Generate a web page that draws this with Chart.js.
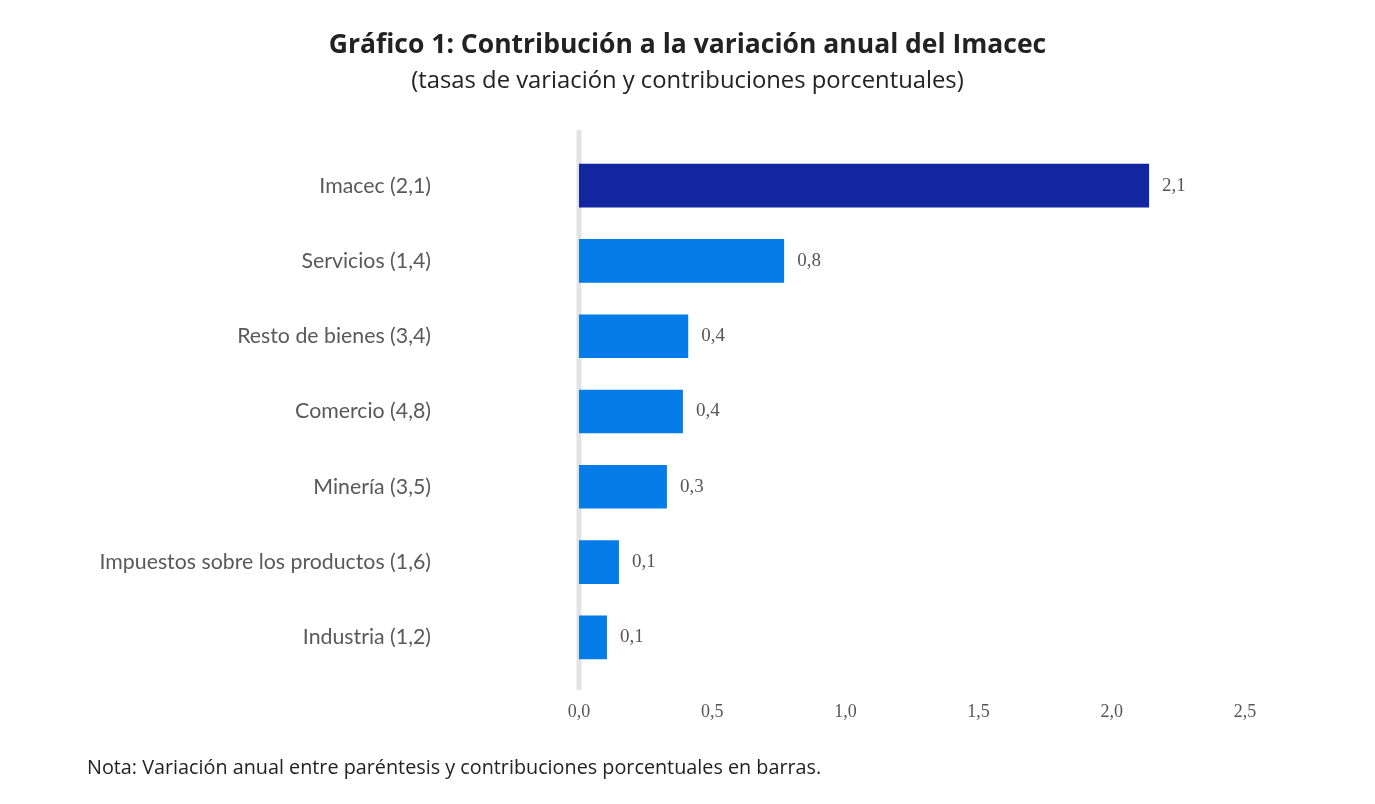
<!DOCTYPE html>
<html lang="es">
<head>
<meta charset="utf-8">
<title>Gráfico 1: Contribución a la variación anual del Imacec</title>
<script src="https://cdn.jsdelivr.net/npm/chart.js@4"></script>
<style>
  html, body { margin: 0; padding: 0; background: #fff; }
  #wrap { position: relative; width: 1375px; height: 804px; }
  #grafico { position: absolute; left: 0; top: 0; }
  .txt { position: absolute; left: 0; width: 1375px; text-align: center; font-family: "Open Sans", sans-serif; color: #222; white-space: nowrap; }
  #titulo { top: 25px; font-size: 26.5px; font-weight: bold; }
  #subtitulo { top: 63px; font-size: 23.8px; }
  #nota { top: 753px; left: 87px; width: auto; text-align: left; font-size: 19.8px; }
</style>
</head>
<body>
<div id="wrap">
  <canvas id="grafico" width="1375" height="804"></canvas>
  <div class="txt" id="titulo">Gráfico 1: Contribución a la variación anual del Imacec</div>
  <div class="txt" id="subtitulo">(tasas de variación y contribuciones porcentuales)</div>
  <div class="txt" id="nota">Nota: Variación anual entre paréntesis y contribuciones porcentuales en barras.</div>
</div>
<script>
const categorias = ['Imacec (2,1)', 'Servicios (1,4)', 'Resto de bienes (3,4)', 'Comercio (4,8)',
  'Minería (3,5)', 'Impuestos sobre los productos (1,6)', 'Industria (1,2)'];
const contribuciones = [2.14, 0.77, 0.41, 0.39, 0.33, 0.15, 0.105];
const etiquetas = ['2,1', '0,8', '0,4', '0,4', '0,3', '0,1', '0,1'];
const colores = ['#1226a0', '#057ce8', '#057ce8', '#057ce8', '#057ce8', '#057ce8', '#057ce8'];

const fuenteNum = 'Liberation Serif, serif';

// linea gris del cero y etiquetas de las barras
const extras = {
  id: 'extras',
  beforeDatasetsDraw(chart) {
    const { ctx, chartArea, scales } = chart;
    const x0 = scales.x.getPixelForValue(0);
    ctx.save();
    ctx.strokeStyle = '#e3e3e3';
    ctx.lineWidth = 5;
    ctx.beginPath();
    ctx.moveTo(x0, chartArea.top - 18);
    ctx.lineTo(x0, chartArea.bottom + 15);
    ctx.stroke();
    ctx.restore();
  },
  afterDatasetsDraw(chart) {
    const { ctx } = chart;
    const meta = chart.getDatasetMeta(0);
    ctx.save();
    ctx.font = '19px ' + fuenteNum;
    ctx.fillStyle = '#555';
    ctx.textBaseline = 'middle';
    meta.data.forEach((bar, i) => {
      ctx.fillText(etiquetas[i], bar.x + 13, bar.y);
    });
    ctx.restore();
  }
};

new Chart(document.getElementById('grafico'), {
  type: 'bar',
  data: {
    labels: categorias,
    datasets: [{
      data: contribuciones,
      backgroundColor: colores,
      barPercentage: 0.58,
      categoryPercentage: 1
    }]
  },
  options: {
    indexAxis: 'y',
    responsive: false,
    animation: false,
    layout: { padding: { top: 148, right: 130, left: 0, bottom: 0 } },
    plugins: {
      legend: { display: false },
      tooltip: { enabled: false }
    },
    scales: {
      x: {
        min: 0,
        max: 2.5,
        grid: { display: false, drawTicks: false },
        border: { display: false },
        afterFit(scale) { scale.height = 129; scale.paddingLeft = 0; scale.paddingRight = 0; },
        ticks: {
          stepSize: 0.5,
          padding: 26,
          color: '#555',
          font: { family: fuenteNum, size: 18 },
          callback: v => v.toFixed(1).replace('.', ',')
        }
      },
      y: {
        grid: { display: false, drawTicks: false },
        border: { display: false },
        afterFit(scale) { scale.width = 579; scale.paddingTop = 0; scale.paddingBottom = 0; },
        ticks: {
          padding: 148,
          color: '#595959',
          font: { family: 'Lato, sans-serif', size: 21.3 }
        }
      }
    }
  },
  plugins: [extras]
});
</script>
</body>
</html>
